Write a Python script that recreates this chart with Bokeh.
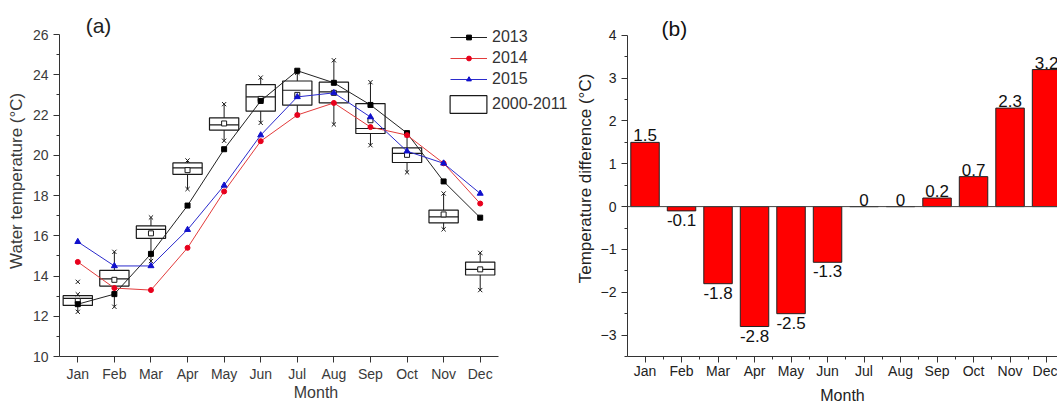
from bokeh.plotting import figure
from bokeh.models import FixedTicker, Legend, LegendItem, Label, Span, Range1d, LinearAxis
from bokeh.layouts import row
from bokeh.embed import file_html
from bokeh.resources import INLINE
from bokeh.core.properties import value

FONT = "Liberation Sans"

months = ["Jan", "Feb", "Mar", "Apr", "May", "Jun", "Jul", "Aug", "Sep", "Oct", "Nov", "Dec"]
month_idx = list(range(1, 13))

# Panel (a): monthly water temperature (°C)
t2013 = [12.6, 13.1, 15.1, 17.5, 20.3, 22.7, 24.2, 23.6, 22.5, 21.1, 18.7, 16.9]
t2014 = [14.7, 13.4, 13.3, 15.4, 18.2, 20.7, 22.0, 22.6, 21.4, 21.0, 19.6, 17.6]
t2015 = [15.7, 14.5, 14.5, 16.3, 18.5, 21.0, 22.9, 23.1, 21.9, 20.2, 19.6, 18.1]

# 2000-2011 box statistics
box_q1 = [12.54, 13.50, 15.87, 19.05, 21.25, 22.19, 22.49, 22.60, 21.08, 19.64, 16.64, 14.05]
box_med = [12.89, 13.86, 16.32, 19.37, 21.51, 22.90, 23.23, 23.15, 21.33, 20.09, 16.94, 14.33]
box_q3 = [13.02, 14.28, 16.49, 19.62, 21.86, 23.51, 23.69, 23.63, 22.57, 20.37, 17.27, 14.69]
box_mean = [12.76, 13.81, 16.12, 19.26, 21.58, 22.80, 23.00, 23.10, 21.74, 20.02, 17.06, 14.33]
whisk_lo = [12.22, 12.47, 14.74, 18.32, 20.72, 21.61, 22.00, 21.53, 20.50, 19.15, 16.32, 13.30]
whisk_hi = [13.09, 15.20, 16.91, 19.74, 22.54, 23.86, 24.10, 24.72, 23.63, 21.00, 18.10, 15.15]
outlier_month = [1]
outlier_val = [13.71]

# Panel (b): temperature difference (°C)
diff = [1.5, -0.1, -1.8, -2.8, -2.5, -1.3, 0, 0, 0.2, 0.7, 2.3, 3.2]

BOX_W = 0.8


def style_axis(ax, color, size="14px", standoff=5):
    ax.axis_line_color = "#333333"
    ax.axis_line_width = 1
    ax.major_tick_line_color = "#333333"
    ax.minor_tick_line_color = "#333333"
    ax.major_tick_in = 0
    ax.major_tick_out = 6
    ax.minor_tick_in = 0
    ax.minor_tick_out = 3
    ax.major_label_text_font = FONT
    ax.major_label_text_font_size = size
    ax.major_label_text_color = color
    ax.major_label_standoff = standoff
    ax.axis_label_text_font = FONT
    ax.axis_label_text_font_size = "16px"
    ax.axis_label_text_font_style = "normal"
    ax.axis_label_text_color = color


def label_axis(text, bounds, color, size, standoff):
    ax = LinearAxis(ticker=FixedTicker(ticks=[], minor_ticks=[]), bounds=bounds,
                    axis_label=text)
    ax.axis_line_color = None
    ax.major_tick_line_color = None
    ax.minor_tick_line_color = None
    ax.major_label_text_font_size = "0px"
    ax.axis_label_text_font = FONT
    ax.axis_label_text_font_size = size
    ax.axis_label_text_font_style = "normal"
    ax.axis_label_text_color = color
    ax.axis_label_standoff = standoff
    return ax


# ---------------- Panel (a) ----------------
# frame spans x 59..572 and y 0..356 px; axes are bounded to the data area
pa = figure(width=572, height=406, output_backend="svg", toolbar_location=None,
            x_range=Range1d(0.5, 14.523), y_range=Range1d(10, 27.69),
            min_border_left=59, min_border_right=0, min_border_top=0, min_border_bottom=50)
pa.outline_line_color = None
pa.grid.visible = False
pa.background_fill_color = "white"
pa.border_fill_color = "white"

style_axis(pa.yaxis[0], "#3a3a3a")
pa.yaxis[0].ticker = FixedTicker(ticks=list(range(10, 27, 2)), minor_ticks=list(range(11, 26, 2)))
pa.yaxis[0].bounds = (10, 26)
style_axis(pa.xaxis[0], "#3a3a3a", standoff=3)
pa.xaxis[0].ticker = FixedTicker(ticks=month_idx, minor_ticks=[])
pa.xaxis[0].bounds = (0.5, 12.5)
pa.xaxis[0].major_label_overrides = {m: name for m, name in zip(month_idx, months)}
pa.xaxis[0].axis_label = "Month"
pa.xaxis[0].axis_label_standoff = -1
pa.add_layout(label_axis("Water temperature  (°C)", (12.0, 25.8), "#3a3a3a", "17px", 4), "left")

# boxes
boxes = pa.vbar(x=month_idx, width=BOX_W, bottom=box_q1, top=box_q3,
                fill_color=None, line_color="#1a1a1a", line_width=1.2)
pa.segment(x0=[m - BOX_W / 2 for m in month_idx], x1=[m + BOX_W / 2 for m in month_idx],
           y0=box_med, y1=box_med, line_color="#1a1a1a", line_width=1.2)
pa.segment(x0=month_idx, x1=month_idx, y0=box_q3, y1=whisk_hi, line_color="#1a1a1a", line_width=1)
pa.segment(x0=month_idx, x1=month_idx, y0=whisk_lo, y1=box_q1, line_color="#1a1a1a", line_width=1)
pa.scatter(x=month_idx, y=whisk_hi, marker="x", size=6, line_color="#1a1a1a", line_width=1)
pa.scatter(x=month_idx, y=whisk_lo, marker="x", size=6, line_color="#1a1a1a", line_width=1)
pa.scatter(x=outlier_month, y=outlier_val, marker="x", size=6, line_color="#1a1a1a", line_width=1)
pa.scatter(x=month_idx, y=box_mean, marker="square", size=5, fill_color="white",
           line_color="#1a1a1a", line_width=1)

# series
l13 = pa.line(month_idx, t2013, line_color="#222222", line_width=1)
s13 = pa.scatter(month_idx, t2013, marker="square", size=5, fill_color="black", line_color="black")
l14 = pa.line(month_idx, t2014, line_color="#e23b3b", line_width=1)
s14 = pa.scatter(month_idx, t2014, marker="circle", size=5, fill_color="#e8001c", line_color="#e8001c")
l15 = pa.line(month_idx, t2015, line_color="#2b2bcc", line_width=1)
s15 = pa.scatter(month_idx, t2015, marker="triangle", size=6, fill_color="#1010cc", line_color="#1010cc")

leg1 = Legend(items=[LegendItem(label="2013", renderers=[l13, s13]),
                     LegendItem(label="2014", renderers=[l14, s14]),
                     LegendItem(label="2015", renderers=[l15, s15])],
              location=(391, 268), glyph_width=37, glyph_height=12, spacing=3,
              padding=0, margin=0, label_standoff=5, border_line_color=None,
              background_fill_alpha=0, label_text_font=FONT, label_text_font_size="16px",
              label_text_color="#333333")
leg2 = Legend(items=[LegendItem(label="2000-2011", renderers=[boxes])],
              location=(386, 241), glyph_width=46, glyph_height=22, spacing=0,
              padding=0, margin=0, label_standoff=1, border_line_color=None,
              background_fill_alpha=0, label_text_font=FONT, label_text_font_size="16px",
              label_text_color="#333333")
pa.add_layout(leg1)
pa.add_layout(leg2)

pa.add_layout(Label(x=1.566, y=26.45, text="(a)", text_font=FONT, text_font_size="21px",
                    text_color="#222222", text_align="center", text_baseline="middle"))

# ---------------- Panel (b) ----------------
# frame spans x 626..1057 and y 0..358 px; axes are bounded to the data area
pb = figure(width=485, height=406, output_backend="svg", toolbar_location=None,
            x_range=Range1d(0.52, 12.3), y_range=Range1d(-3.5, 4.8126),
            min_border_left=54, min_border_right=0, min_border_top=0, min_border_bottom=48)
pb.outline_line_color = None
pb.grid.visible = False
pb.background_fill_color = "white"
pb.border_fill_color = "white"

style_axis(pb.yaxis[0], "#222222")
pb.yaxis[0].ticker = FixedTicker(ticks=list(range(-3, 5)), minor_ticks=[v / 2 for v in range(-7, 8, 2)])
pb.yaxis[0].bounds = (-3.5, 4)
style_axis(pb.xaxis[0], "#222222", standoff=0)
pb.xaxis[0].ticker = FixedTicker(ticks=month_idx, minor_ticks=[m + 0.5 for m in range(0, 13)])
pb.xaxis[0].major_label_overrides = {m: name for m, name in zip(month_idx, months)}
pb.xaxis[0].axis_label = "Month"
pb.xaxis[0].axis_label_standoff = 5
pb.add_layout(label_axis("Temperature difference (°C)", (-3.0, 4.27), "#222222", "17px", 3), "left")

pb.vbar(x=month_idx, width=0.78, bottom=0, top=diff, fill_color="#ff0000",
        line_color="#222222", line_width=1)
pb.add_layout(Span(location=0, dimension="width", line_color="#444444", line_width=1))

pos_x = [m for m, v in zip(month_idx, diff) if v >= 0]
pos_y = [v for v in diff if v >= 0]
neg_x = [m for m, v in zip(month_idx, diff) if v < 0]
neg_y = [v for v in diff if v < 0]
pb.text(x=pos_x, y=pos_y, text=[f"{v:g}" for v in pos_y], text_font=value(FONT),
        text_font_size="17px", text_color="#111111", text_align="center",
        text_baseline="bottom", y_offset=-1)
pb.text(x=neg_x, y=neg_y, text=[f"{v:g}" for v in neg_y], text_font=value(FONT),
        text_font_size="17px", text_color="#111111", text_align="center",
        text_baseline="top", y_offset=3)

pb.add_layout(Label(x=1.805, y=4.163, text="(b)", text_font=FONT, text_font_size="21px",
                    text_color="#111111", text_align="center", text_baseline="middle"))

layout = row(pa, pb, spacing=0)
open("out.html", "w").write(file_html(layout, INLINE))
